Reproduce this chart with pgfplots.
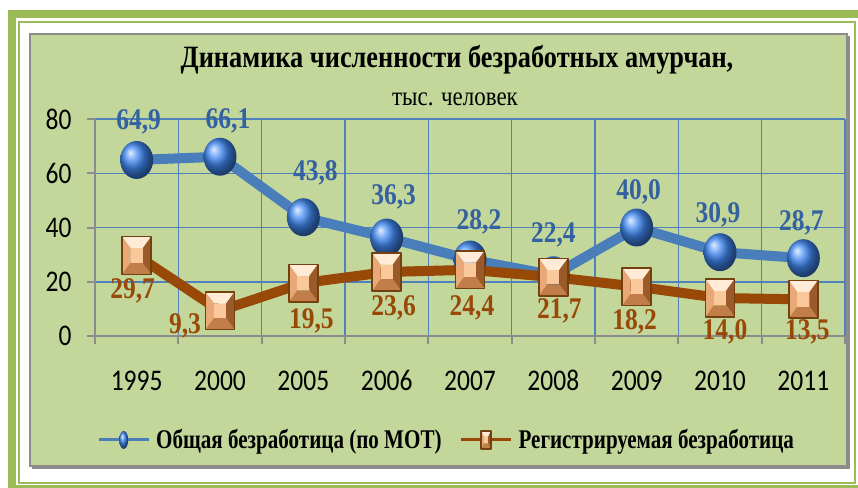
\documentclass[border=0pt]{standalone}
\usepackage{fontspec}
\setmainfont{Liberation Serif}[FakeStretch=0.85]
\newfontfamily\tickfont{Carlito}[FakeStretch=0.85]
\newfontfamily\legfont{Liberation Serif}[FakeStretch=0.78]
\usepackage{pgfplots}
\pgfplotsset{compat=1.18}
\usepackage{pgfplotstable}
\usetikzlibrary{shadings}
\definecolor{framegreen}{HTML}{9BBB59}
\definecolor{chartgreen}{HTML}{C4D79B}
\definecolor{axisgray}{HTML}{8C8C8C}
\definecolor{gridblue}{HTML}{4F81BD}
\definecolor{lineblue}{HTML}{4A7EBB}
\definecolor{ballblue}{HTML}{4088F2}
\definecolor{labblue}{HTML}{3461A0}
\definecolor{linebrown}{HTML}{984807}
\definecolor{labbrown}{HTML}{984807}
\definecolor{sqtop}{HTML}{FFEBD6}
\definecolor{sqleft}{HTML}{E8A878}
\definecolor{sqright}{HTML}{9A5A2A}
\definecolor{sqbot}{HTML}{C27E48}
\definecolor{sqmid}{HTML}{FAC89A}
\definecolor{sqedge}{HTML}{74400F}

\pgfdeclareplotmark{bevel}{%
  \pgfmathsetlengthmacro\bvW{\pgfplotmarksize}%
  \pgfmathsetlengthmacro\bvH{1.3*\pgfplotmarksize}%
  \pgfmathsetlengthmacro\bvw{0.42*\pgfplotmarksize}%
  \pgfmathsetlengthmacro\bvh{0.5*\pgfplotmarksize}%
  \pgfsetfillcolor{sqtop}%
  \pgfpathmoveto{\pgfqpoint{-\bvW}{\bvH}}\pgfpathlineto{\pgfqpoint{\bvW}{\bvH}}%
  \pgfpathlineto{\pgfqpoint{\bvw}{\bvh}}\pgfpathlineto{\pgfqpoint{-\bvw}{\bvh}}\pgfpathclose\pgfusepath{fill}%
  \pgfsetfillcolor{sqleft}%
  \pgfpathmoveto{\pgfqpoint{-\bvW}{\bvH}}\pgfpathlineto{\pgfqpoint{-\bvw}{\bvh}}%
  \pgfpathlineto{\pgfqpoint{-\bvw}{-\bvh}}\pgfpathlineto{\pgfqpoint{-\bvW}{-\bvH}}\pgfpathclose\pgfusepath{fill}%
  \pgfsetfillcolor{sqright}%
  \pgfpathmoveto{\pgfqpoint{\bvW}{\bvH}}\pgfpathlineto{\pgfqpoint{\bvw}{\bvh}}%
  \pgfpathlineto{\pgfqpoint{\bvw}{-\bvh}}\pgfpathlineto{\pgfqpoint{\bvW}{-\bvH}}\pgfpathclose\pgfusepath{fill}%
  \pgfsetfillcolor{sqbot}%
  \pgfpathmoveto{\pgfqpoint{-\bvW}{-\bvH}}\pgfpathlineto{\pgfqpoint{\bvW}{-\bvH}}%
  \pgfpathlineto{\pgfqpoint{\bvw}{-\bvh}}\pgfpathlineto{\pgfqpoint{-\bvw}{-\bvh}}\pgfpathclose\pgfusepath{fill}%
  \pgfsetfillcolor{sqmid}%
  \pgfpathrectangle{\pgfqpoint{-\bvw}{-\bvh}}{\pgfqpoint{0.84\pgfplotmarksize}{\pgfplotmarksize}}\pgfusepath{fill}%
  \pgfsetstrokecolor{sqedge}\pgfsetlinewidth{1.5pt}%
  \pgfpathrectangle{\pgfqpoint{-\bvW}{-\bvH}}{\pgfqpoint{2\pgfplotmarksize}{2.6\pgfplotmarksize}}\pgfusepath{stroke}%
}

\pgfplotstableread{
x y lab dx dy
1 64.9 64,9 2 38
2 66.1 66,1 8 36
3 43.8 43,8 12 44
4 36.3 36,3 7 41
5 28.2 28,2 9 38
6 22.4 22,4 0 40
7 40.0 40,0 2 36
8 30.9 30,9 -2 37
9 28.7 28,7 -2 35
}\bluedata
\pgfplotstableread{
x y lab dx dy
1 29.7 29,7 -4 -35
2 9.3 9,3 -35 -15
3 19.5 19,5 8 -38
4 23.6 23,6 7 -36
5 24.4 24,4 2 -38
6 21.7 21,7 6 -34
7 18.2 18,2 -2 -35
8 14.0 14,0 5 -34
9 13.5 13,5 4 -33
}\browndata

\begin{document}
\begin{tikzpicture}
\useasboundingbox (0,0) rectangle (858pt,487pt);
\fill[white] (0,0) rectangle (858pt,487pt);
\draw[framegreen, line width=8pt] (12pt,-2pt) rectangle (866pt,473pt);
\draw[framegreen, line width=2pt] (19pt,4pt) rectangle (855pt,465pt);
\fill[black!45] (32pt,18pt) rectangle (850pt,451pt);
\draw[axisgray, line width=2pt, fill=chartgreen] (30pt,21pt) rectangle (847pt,453pt);
\node[anchor=base, font=\bfseries\fontsize{31}{31}\selectfont] at (457pt,419pt) {Динамика численности безработных амурчан,};
\node[anchor=base, font=\fontsize{27}{27}\selectfont] at (455pt,381pt) {тыс. человек};

\begin{axis}[
  at={(95pt,151pt)}, anchor=south west,
  scale only axis, width=750pt, height=217pt,
  xmin=0.5, xmax=9.5, ymin=0, ymax=80,
  xtick={0.5,1.5,...,9.5}, xticklabels={},
  extra x ticks={1,2,...,9},
  extra x tick labels={1995,2000,2005,2006,2007,2008,2009,2010,2011},
  extra x tick style={grid=none, tick style={draw=none}},
  ytick={0,20,...,80},
  xmajorgrids, ymajorgrids,
  major grid style={gridblue, line width=1.5pt},
  axis lines*=left,
  axis line style={axisgray, line width=2.5pt, -},
  tick align=outside, major tick length=8pt,
  tick style={axisgray, line width=2pt},
  ticklabel style={font=\tickfont\fontsize{30}{30}\selectfont, text=black},
  /pgf/number format/assume math mode=true,
  yticklabel style={anchor=east, xshift=-12pt},
  xticklabel style={anchor=base, text depth=0pt, yshift=-46pt},
  clip=false,
  legend style={at={(0.0027,-0.479)}, anchor=west, draw=none, fill=none,
    inner sep=0pt, font=\legfont\bfseries\fontsize{27}{27}\selectfont,
    legend columns=2,
    /tikz/every odd column/.append style={column sep=4pt},
    /tikz/every even column/.append style={column sep=16pt}},
]
\addplot[lineblue, line width=10pt, line join=round,
  mark=ball, mark size=16.5pt, mark options={ball color=ballblue, yscale=1.15, line width=0pt, draw opacity=0},
  nodes near coords, point meta=explicit symbolic,
  visualization depends on={\thisrow{dx}\as\ldx},
  visualization depends on={\thisrow{dy}\as\ldy},
  nodes near coords style={font=\bfseries\fontsize{30}{30}\selectfont, text=labblue, anchor=center, xshift=\ldx pt, yshift=\ldy pt},
  legend image code/.code={
    \draw[lineblue, line width=3pt] (0pt,0pt) -- (50pt,0pt);
    \path plot[mark=ball, mark size=4.5pt, mark options={ball color=ballblue, yscale=2, line width=0pt, draw opacity=0}] coordinates {(25pt,0pt)};}
] table[x=x, y=y, meta=lab] {\bluedata};
\addlegendentry{Общая безработица (по МОТ)}
\addplot[linebrown, line width=10pt, line join=round,
  mark=bevel, mark size=14.5pt,
  nodes near coords, point meta=explicit symbolic,
  visualization depends on={\thisrow{dx}\as\ldx},
  visualization depends on={\thisrow{dy}\as\ldy},
  nodes near coords style={font=\bfseries\fontsize{30}{30}\selectfont, text=labbrown, anchor=center, xshift=\ldx pt, yshift=\ldy pt},
  legend image code/.code={
    \draw[linebrown, line width=3pt] (0pt,0pt) -- (50pt,0pt);
    \path plot[mark=bevel, mark size=5pt, mark options={yscale=1.4}] coordinates {(25pt,0pt)};}
] table[x=x, y=y, meta=lab] {\browndata};
\addlegendentry{Регистрируемая безработица}
\end{axis}
\end{tikzpicture}
\end{document}
